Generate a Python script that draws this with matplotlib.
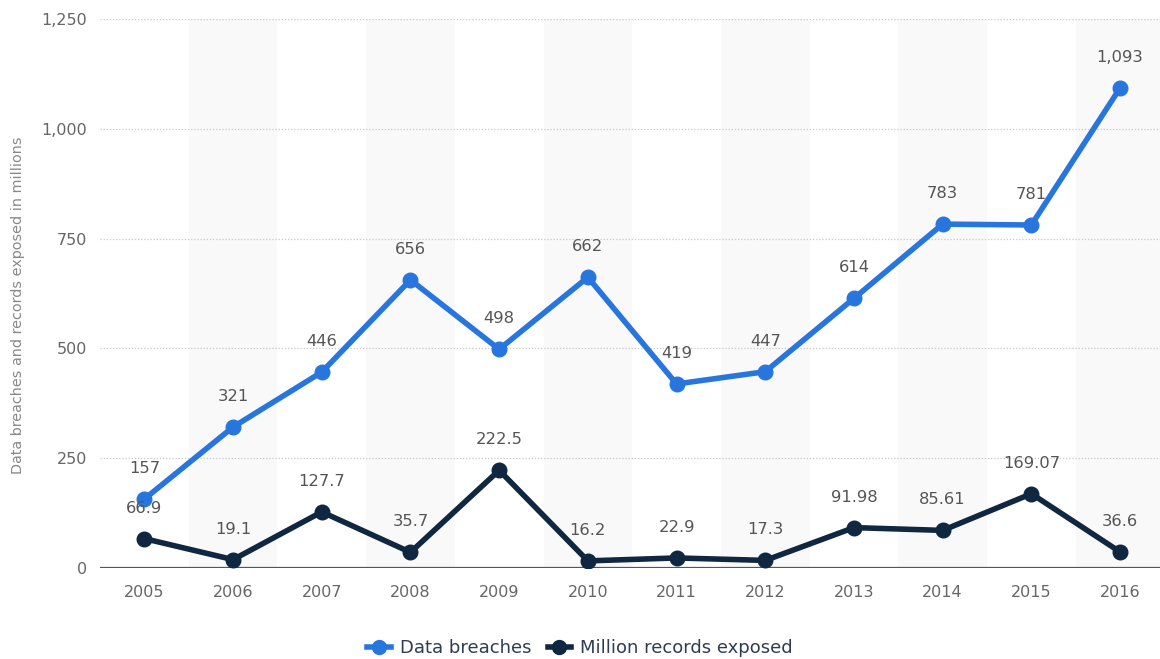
import matplotlib
matplotlib.use("Agg")
import matplotlib.pyplot as plt
from matplotlib.lines import Line2D

plt.rcParams['font.family'] = ['DejaVu Sans']

years = ['2005', '2006', '2007', '2008', '2009', '2010', '2011', '2012', '2013', '2014', '2015', '2016']
breaches = [157, 321, 446, 656, 498, 662, 419, 447, 614, 783, 781, 1093]
records = [66.9, 19.1, 127.7, 35.7, 222.5, 16.2, 22.9, 17.3, 91.98, 85.61, 169.07, 36.6]
breach_labels = ['157', '321', '446', '656', '498', '662', '419', '447', '614', '783', '781', '1,093']
record_labels = ['66.9', '19.1', '127.7', '35.7', '222.5', '16.2', '22.9', '17.3', '91.98', '85.61', '169.07', '36.6']
yticks = [0, 250, 500, 750, 1000, 1250]
ytick_labels = ['0', '250', '500', '750', '1,000', '1,250']

blue = '#2876dd'
dark = '#0f2740'

fig = plt.figure(figsize=(11.6, 6.59), dpi=100)
ax = fig.add_axes([100/1160, 91/659, 1060/1160, 549/659])

x = list(range(len(years)))
for i in x:
    if i % 2 == 1:
        ax.axvspan(i - 0.5, i + 0.5, color='#f9f9f9', zorder=0, lw=0)

for t in yticks[1:]:
    ax.axhline(t, color='#c8c8c8', lw=0.9, ls=(0, (1, 1.5)), zorder=1)
ax.axhline(0, color='#555555', lw=1.6, zorder=2)

ax.plot(x, breaches, color=blue, lw=4, marker='o', ms=10.5, zorder=4)
ax.plot(x, records, color=dark, lw=4, marker='o', ms=10.5, zorder=3)

for i in x:
    ax.annotate(breach_labels[i], (i, breaches[i]), xytext=(0, 16.5), textcoords='offset points',
                ha='center', va='bottom', fontsize=11.8, color='#555555', zorder=6)
    ax.annotate(record_labels[i], (i, records[i]), xytext=(0, 16.5), textcoords='offset points',
                ha='center', va='bottom', fontsize=11.8, color='#555555', zorder=6)

ax.set_xlim(-0.5, 11.45)
ax.set_ylim(0, 1250)
ax.set_xticks(x)
ax.set_xticklabels(years)
ax.set_yticks(yticks)
ax.set_yticklabels(ytick_labels)
ax.tick_params(axis='both', length=0, labelsize=11.5, labelcolor='#666666')
ax.tick_params(axis='x', pad=12)
ax.tick_params(axis='y', pad=9.5)
for s in ax.spines.values():
    s.set_visible(False)
ax.set_ylabel('Data breaches and records exposed in millions', fontsize=10.4, color='#888888')
ax.yaxis.set_label_coords(-0.071, 0.478)

handles = [Line2D([0], [0], color=blue, lw=4, marker='o', ms=10),
           Line2D([0], [0], color=dark, lw=4, marker='o', ms=10)]
fig.legend(handles, ['Data breaches', 'Million records exposed'], loc='center',
           bbox_to_anchor=(0.5, 1 - 648/659), ncol=2, frameon=False, fontsize=13,
           labelcolor='#2e3d52', handlelength=1.3, columnspacing=0.9, handletextpad=0.5)

fig.savefig('out.png', dpi=100)
